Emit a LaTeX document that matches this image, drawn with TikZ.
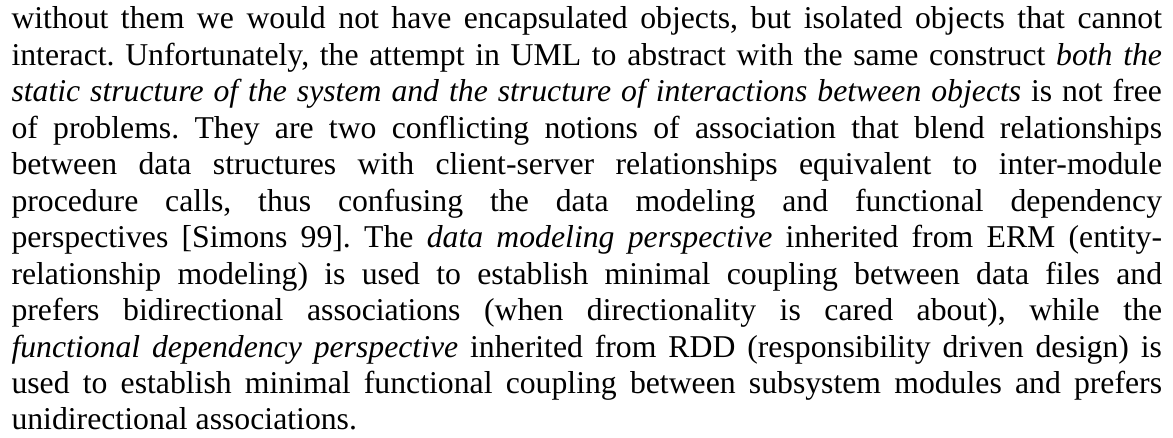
\documentclass[tikz,border=0pt]{standalone}
\usepackage{fontspec}
\usepackage{graphicx}
\setmainfont{Liberation Serif}
\frenchspacing

% width of the justified text block
\newlength\blockw
\setlength\blockw{862.9pt}
\newsavebox\linebox

% one justified line: spaces stretch to fill the block, or the line is
% squeezed horizontally when its natural width is too large
\newcommand\jline[1]{%
  \sbox\linebox{#1}%
  \ifdim\wd\linebox>\blockw
    \resizebox{\blockw}{\ht\linebox}{\usebox\linebox}%
  \else
    \makebox[\blockw][s]{#1}%
  \fi}

\begin{document}
\begin{tikzpicture}[x=1pt,y=1pt,
  textline/.style={anchor=base west,inner sep=0pt,outer sep=0pt,
    font=\fontsize{23.8pt}{27.34pt}\selectfont\frenchspacing}]
\useasboundingbox[fill=white] (0,0) rectangle (879.75,-328.5);

\node[textline] (l1)  at (8.625,-21.75)  {\jline{without them we would not have encapsulated objects, but isolated objects that cannot}};
\node[textline] (l2)  at (8.625,-49.09)  {\jline{interact. Unfortunately, the attempt in UML to abstract with the same construct \textit{both the}}};
\node[textline] (l3)  at (8.625,-76.43)  {\jline{\textit{static structure of the system and the structure of interactions between objects} is not free}};
\node[textline] (l4)  at (8.625,-103.77) {\jline{of problems. They are two conflicting notions of association that blend relationships}};
\node[textline] (l5)  at (8.625,-131.11) {\jline{between data structures with client-server relationships equivalent to inter-module}};
\node[textline] (l6)  at (8.625,-158.45) {\jline{procedure calls, thus confusing the data modeling and functional dependency}};
\node[textline] (l7)  at (8.625,-185.79) {\jline{perspectives [Simons 99]. The \textit{data modeling perspective} inherited from ERM (entity-}};
\node[textline] (l8)  at (8.625,-213.13) {\jline{relationship modeling) is used to establish minimal coupling between data files and}};
\node[textline] (l9)  at (8.625,-240.47) {\jline{prefers bidirectional associations (when directionality is cared about), while the}};
\node[textline] (l10) at (8.625,-267.81) {\jline{\textit{functional dependency perspective} inherited from RDD (responsibility driven design) is}};
\node[textline] (l11) at (8.625,-295.15) {\jline{used to establish minimal functional coupling between subsystem modules and prefers}};
\node[textline] (l12) at (8.625,-322.49) {unidirectional associations.};
\end{tikzpicture}
\end{document}
